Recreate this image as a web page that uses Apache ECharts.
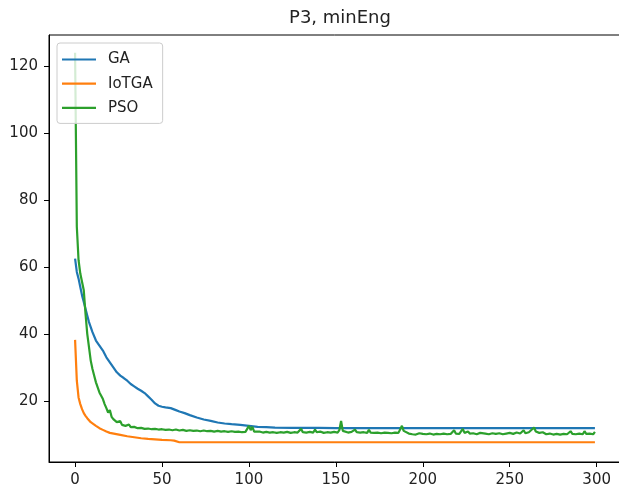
<!DOCTYPE html>
<html>
<head>
<meta charset="utf-8">
<script src="https://cdn.jsdelivr.net/npm/echarts@6/dist/echarts.min.js"></script>
<style>
  html, body { margin: 0; padding: 0; background: #fff; overflow: hidden; }
  #chart { width: 619px; height: 494px; }
</style>
</head>
<body>
<div id="chart"></div>
<script>
// values, [iteration, value]
var gaData = [
  [0, 62.5], [1, 58.5], [2, 56.5], [3, 54], [4, 51.5], [5, 49.5], [6, 47.5], [7, 45.5],
  [8, 43.5], [9, 42], [10, 40.5], [12, 38], [14, 36.5], [16, 35], [18, 33], [20, 31.5],
  [22, 30], [24, 28.5], [26, 27.5], [28, 26.8], [30, 26], [32, 25], [34, 24.3], [36, 23.6],
  [38, 23], [40, 22.3], [42, 21.3], [44, 20.3], [46, 19.2], [48, 18.5], [50, 18.2], [52, 18],
  [55, 17.8], [58, 17.2], [60, 16.8], [63, 16.3], [66, 15.7], [70, 15], [74, 14.4], [78, 14],
  [82, 13.5], [86, 13.2], [90, 13], [95, 12.8], [100, 12.5], [105, 12.2], [110, 12.1],
  [115, 12.0], [125, 11.9], [140, 11.9], [150, 11.8], [299, 11.8]
];

var iotgaData = [
  [0, 38.2], [1, 26], [2, 21], [3, 19], [4, 17.5], [5, 16.3], [6, 15.5], [7, 14.8],
  [8, 14.2], [9, 13.6], [10, 13.2], [12, 12.5], [14, 11.8], [16, 11.3], [18, 10.8],
  [20, 10.4], [23, 10.1], [26, 9.8], [30, 9.4], [34, 9.1], [38, 8.8], [42, 8.6],
  [46, 8.45], [50, 8.3], [55, 8.2], [57, 8.1], [58, 7.7], [60, 7.6], [299, 7.6]
];

var psoData = [
  [0, 124], [1, 72], [2, 62], [3, 58], [4, 57.5], [5, 53], [6, 46], [7, 40], [8, 36],
  [9, 32], [10, 29.5], [11, 27.5], [12, 25.5], [13, 24], [14, 22.5], [15, 21.5], [16, 20.5],
  [17, 19], [18, 17.8], [19, 16.5], [20, 17.2], [21, 15.2], [22, 14.5], [23, 14.1],
  [24, 13.6], [25, 13.3], [26, 13.9], [27, 12.8], [28, 12.6], [29, 12.5], [30, 12.2], [31, 12.9],
  [32, 12.1], [33, 12.0], [34, 12.2], [35, 11.9], [36, 11.8], [38, 11.9], [40, 11.6],
  [42, 11.7], [44, 11.5], [46, 11.6], [48, 11.4], [50, 11.5], [52, 11.3], [54, 11.4],
  [56, 11.2], [58, 11.4], [60, 11.1], [62, 11.3], [64, 11.0], [66, 11.2], [68, 11.0],
  [70, 11.1], [72, 10.9], [74, 11.1], [76, 10.9], [78, 11.0], [80, 10.8], [82, 11.0],
  [84, 10.8], [86, 10.9], [88, 10.7], [90, 10.9], [92, 10.7], [94, 10.8], [96, 10.6],
  [98, 10.7], [99, 10.6], [100, 12.5], [101, 11.2], [102, 12.2], [103, 10.8], [104, 10.6],
  [106, 10.8], [108, 10.5], [110, 10.7], [112, 10.5], [114, 10.6], [116, 10.4], [118, 10.6],
  [120, 10.5], [122, 10.7], [124, 10.4], [126, 10.6], [128, 10.5], [130, 11.6], [131, 10.6],
  [133, 10.5], [135, 10.7], [137, 10.5], [138, 11.4], [139, 10.6], [141, 10.8], [143, 10.4],
  [145, 10.6], [147, 10.5], [149, 10.7], [151, 10.5], [152, 11.2], [153, 14.0], [154, 11.0],
  [155, 10.6], [157, 10.5], [159, 10.7], [161, 11.4], [162, 10.6], [164, 10.5], [166, 10.6],
  [168, 10.4], [169, 11.3], [170, 10.5], [172, 10.4], [174, 10.5], [176, 10.3], [178, 10.5],
  [180, 10.4], [182, 10.3], [184, 10.5], [186, 10.4], [188, 12.5], [189, 11.0], [190, 10.5],
  [192, 10.2], [194, 10.0], [196, 9.9], [198, 10.3], [200, 10.1], [202, 10.0], [204, 10.2],
  [206, 9.9], [208, 10.1], [210, 10.0], [212, 10.2], [214, 10.0], [216, 10.1], [218, 11.2],
  [219, 10.2], [221, 10.1], [223, 11.6], [224, 10.4], [226, 10.8], [227, 10.2], [229, 10.3],
  [231, 10.0], [233, 10.4], [234, 10.1], [236, 10.2], [238, 10.0], [240, 10.3], [242, 10.1],
  [244, 10.3], [246, 10.0], [248, 10.2], [250, 10.4], [252, 10.1], [254, 10.5], [256, 10.2],
  [258, 11.2], [259, 10.3], [261, 10.6], [262, 10.2], [264, 12.0], [265, 10.8], [266, 11.2],
  [267, 10.4], [269, 10.6], [271, 10.0], [273, 10.2], [275, 9.9], [277, 10.1], [279, 9.9],
  [281, 10.1], [283, 10.0], [285, 10.9], [286, 10.1], [288, 10.0], [290, 10.2], [292, 10.0],
  [293, 10.9], [294, 10.1], [296, 10.2], [298, 10.0], [299, 10.7]
];

var xTicks = [0, 50, 100, 150, 200, 250, 300];
var yTicks = [20, 40, 60, 80, 100, 120];

var font = 'DejaVu Sans';
var chart = echarts.init(document.getElementById('chart'));

var axisCommon = {
    type: 'value',
    axisLine: { show: true, onZero: false, lineStyle: { color: '#000', width: 1 } },
    axisTick: { show: true, length: 5, lineStyle: { color: '#000', width: 1 } },
    splitLine: { show: false },
    axisLabel: { color: '#222', fontFamily: font, fontSize: 15, margin: 11 }
};

function lineSeries(name, data, color) {
    return {
        name: name,
        type: 'line',
        data: data,
        symbol: 'none',
        showSymbol: false,
        color: color,
        lineStyle: { color: color, width: 2.2 }
    };
}

chart.setOption({
    animation: false,
    backgroundColor: '#fff',
    title: {
        text: 'P3, minEng',
        left: 335,
        top: 4,
        textAlign: 'center',
        textStyle: { color: '#222', fontFamily: font, fontSize: 18, fontWeight: 'normal' }
    },
    legend: {
        left: 57,
        top: 43,
        orient: 'vertical',
        icon: 'rect',
        itemWidth: 34,
        itemHeight: 2.2,
        itemGap: 9.2,
        padding: [9, 10, 8, 5],
        backgroundColor: 'rgba(255,255,255,0.8)',
        borderColor: '#ccc',
        borderWidth: 1,
        borderRadius: 3,
        textStyle: { color: '#222', fontFamily: font, fontSize: 15, padding: [0, 0, 0, 7] },
        data: ['GA', 'IoTGA', 'PSO']
    },
    grid: {
        left: 49,
        top: 35,
        width: 580,
        height: 427,
        outerBoundsMode: 'none',
        show: true,
        borderColor: '#000',
        borderWidth: 1
    },
    xAxis: Object.assign({}, axisCommon, {
        min: -15,
        max: 318.6,
        axisTick: Object.assign({}, axisCommon.axisTick, { customValues: xTicks }),
        axisLabel: Object.assign({}, axisCommon.axisLabel, { customValues: xTicks })
    }),
    yAxis: Object.assign({}, axisCommon, {
        min: 1.7,
        max: 129.3,
        axisTick: Object.assign({}, axisCommon.axisTick, { customValues: yTicks }),
        axisLabel: Object.assign({}, axisCommon.axisLabel, { customValues: yTicks })
    }),
    series: [
        lineSeries('GA', gaData, '#1f77b4'),
        lineSeries('IoTGA', iotgaData, '#ff7f0e'),
        lineSeries('PSO', psoData, '#2ca02c')
    ]
});
</script>
</body>
</html>
